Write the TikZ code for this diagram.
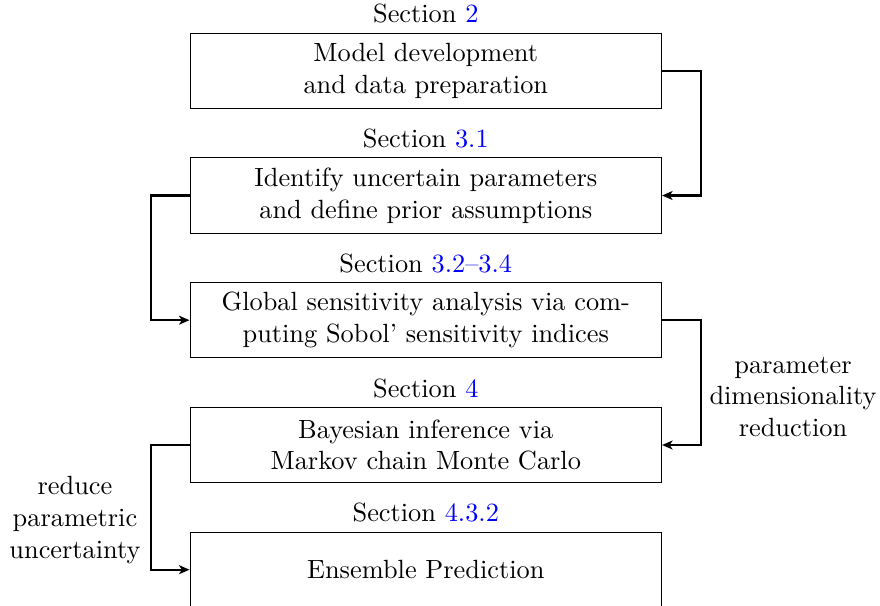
\documentclass[tikz,border=0pt]{standalone}
\usetikzlibrary{arrows.meta,calc}
\begin{document}
\begin{tikzpicture}[x=0.37965pt,y=-0.37965pt,
  box/.style={draw,line width=0.4pt,minimum width=179pt,minimum height=28.5pt,align=center,inner sep=2pt},
  conn/.style={line width=0.8pt,-{Stealth[length=4pt,width=3.4pt,inset=1.1pt]}},
  seclab/.style={inner sep=3.33pt}]
\useasboundingbox (0,0) rectangle (880,606);
\node[box,label={[seclab]above:Section \textcolor{blue}{2}}] (b1) at (425.8,70.8) {Model development\\and data preparation};
\node[box,label={[seclab]above:Section \textcolor{blue}{3.1}}] (b2) at (425.8,195.5) {Identify uncertain parameters\\and define prior assumptions};
\node[box,label={[seclab]above:Section \textcolor{blue}{3.2--3.4}}] (b3) at (425.8,320.2) {Global sensitivity analysis via com-\\puting Sobol' sensitivity indices};
\node[box,label={[seclab]above:Section \textcolor{blue}{4}}] (b4) at (425.8,445) {Bayesian inference via\\Markov chain Monte Carlo};
\node[box,label={[seclab]above:Section \textcolor{blue}{4.3.2}}] (b5) at (425.8,569.7) {Ensemble Prediction};
\draw[conn] (b1.east) -- ++(38.5,0) |- (b2.east);
\draw[conn] (b2.west) -- ++(-38.5,0) |- (b3.west);
\draw[conn] (b3.east) -- ++(38.5,0) |- (b4.east);
\draw[conn] (b4.west) -- ++(-38.5,0) |- (b5.west);
\node[align=center,inner sep=0pt] (l1) at (793,397) {parameter\\dimensionality\\reduction};
\node[align=center,inner sep=0pt] (l2) at (75,520) {reduce\\parametric\\uncertainty};
\end{tikzpicture}
\end{document}
